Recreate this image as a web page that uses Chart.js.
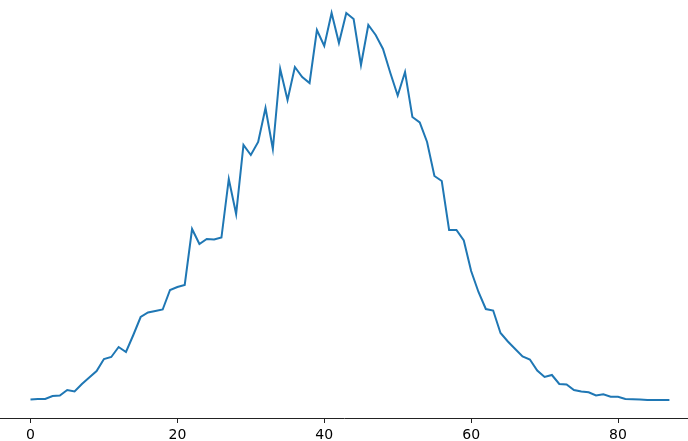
<!DOCTYPE html>
<html>
<head>
  <title>Line chart</title>
  <script src="https://cdn.jsdelivr.net/npm/chart.js"></script>
  <style>
    html, body { margin: 0; padding: 0; background: #fff; }
  </style>
</head>
<body>
  <canvas id="lineChart" width="688" height="441"></canvas>

  <script>
    // values, one per x step (0..87)
    const values = [
      0.5, 1, 1, 4, 4.5, 10, 8.5, 16, 22.5, 29,
      41, 43, 53, 48, 65, 83, 87.5, 89, 90.5, 110,
      113, 115, 171, 156, 161, 160.5, 162.5, 221, 186, 255,
      245, 258, 292, 251, 331, 300, 333, 323, 317, 370,
      354, 387, 357, 387, 381, 335, 375, 365, 351, 327,
      304.5, 328, 283, 277.5, 258, 224, 219, 170, 170, 159.5,
      129, 108, 91, 89.5, 67, 58.5, 51, 43.5, 40.5, 29.5,
      23, 25, 16, 15.5, 10, 8.5, 7.7, 4.5, 5.7, 3.3,
      3.3, 1, 0.7, 0.5, 0, 0, 0, 0
    ];
    const xTicks = [0, 20, 40, 60, 80];

    const ctx = document.getElementById('lineChart').getContext('2d');

    new Chart(ctx, {
      type: 'line',
      data: {
        datasets: [{
          data: values.map((v, i) => ({ x: i, y: v })),
          borderColor: '#1f77b4',
          borderWidth: 2,
          pointRadius: 0,
          tension: 0,
          fill: false
        }]
      },
      options: {
        responsive: false,
        devicePixelRatio: 1,
        animation: false,
        layout: { padding: 0 },
        plugins: {
          legend: { display: false },
          tooltip: { enabled: false }
        },
        scales: {
          x: {
            type: 'linear',
            min: -4.153,
            max: 89.53,
            afterBuildTicks: (scale) => {
              scale.ticks = xTicks.map(v => ({ value: v }));
            },
            afterFit: (scale) => { scale.height = 23; },
            grid: {
              drawOnChartArea: false,
              drawTicks: true,
              tickLength: 5,
              color: '#222'
            },
            border: { display: true, color: '#222', width: 1 },
            ticks: {
              padding: 5,
              maxRotation: 0,
              color: '#000',
              font: { family: 'DejaVu Sans', size: 14, lineHeight: 1 }
            }
          },
          y: {
            display: false,
            min: -18,
            max: 400
          }
        }
      }
    });
  </script>
</body>
</html>
